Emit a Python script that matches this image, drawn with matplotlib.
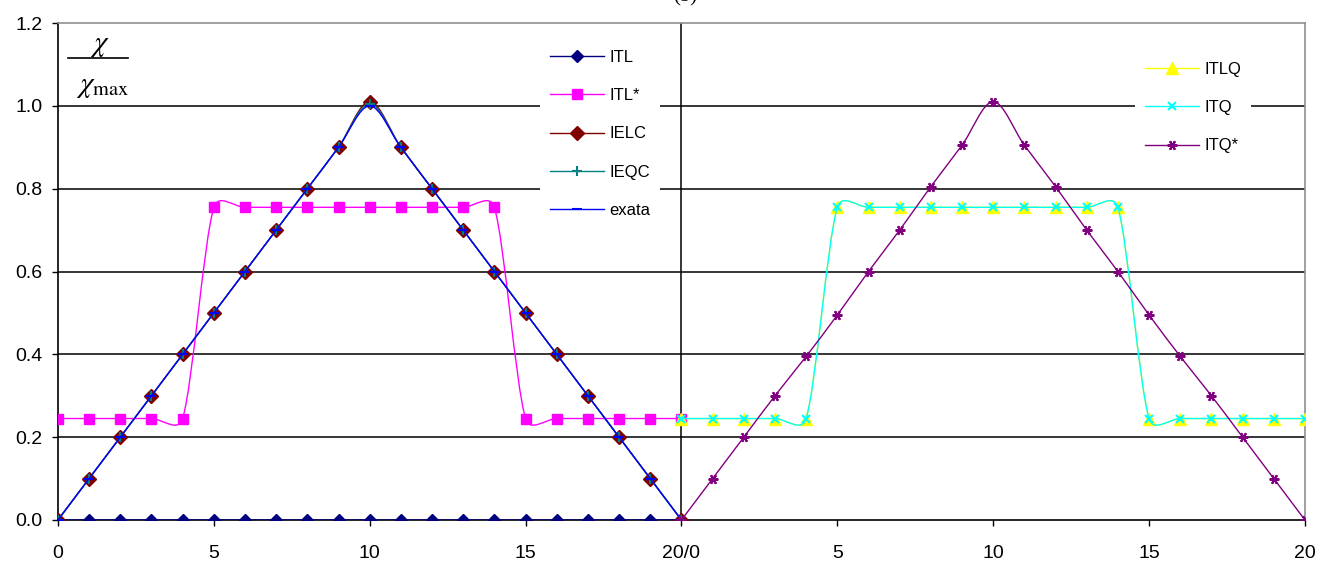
import numpy as np
import matplotlib
matplotlib.use("Agg")
import matplotlib.pyplot as plt
from matplotlib.path import Path
from matplotlib.patches import PathPatch
from matplotlib.lines import Line2D

plt.rcParams['font.family'] = ['Liberation Sans', 'DejaVu Sans']
plt.rcParams['mathtext.fontset'] = 'stix'

# --- dados ---
x_pts = [0, 1, 2, 3, 4, 5, 6, 7, 8, 9, 10, 11, 12, 13, 14, 15, 16, 17, 18, 19, 20]

# painel esquerdo
itl = [0.0] * 21
itl_star = [0.245, 0.245, 0.245, 0.245, 0.245,
            0.755, 0.755, 0.755, 0.755, 0.755, 0.755, 0.755, 0.755, 0.755, 0.755,
            0.245, 0.245, 0.245, 0.245, 0.245, 0.245]
ielc = [0.0, 0.1, 0.2, 0.3, 0.4, 0.5, 0.6, 0.7, 0.8, 0.9, 1.01,
        0.9, 0.8, 0.7, 0.6, 0.5, 0.4, 0.3, 0.2, 0.1, 0.0]
ieqc = [0.0, 0.1, 0.2, 0.3, 0.4, 0.5, 0.6, 0.7, 0.8, 0.9, 1.005,
        0.9, 0.8, 0.7, 0.6, 0.5, 0.4, 0.3, 0.2, 0.1, 0.0]
exata = [0.0, 0.1, 0.2, 0.3, 0.4, 0.5, 0.6, 0.7, 0.8, 0.9, 1.0,
         0.9, 0.8, 0.7, 0.6, 0.5, 0.4, 0.3, 0.2, 0.1, 0.0]

# painel direito
itlq = [0.245, 0.245, 0.245, 0.245, 0.245,
        0.755, 0.755, 0.755, 0.755, 0.755, 0.755, 0.755, 0.755, 0.755, 0.755,
        0.245, 0.245, 0.245, 0.245, 0.245, 0.245]
itq = [0.245, 0.245, 0.245, 0.245, 0.245,
       0.755, 0.755, 0.755, 0.755, 0.755, 0.755, 0.755, 0.755, 0.755, 0.755,
       0.245, 0.245, 0.245, 0.245, 0.245, 0.245]
itq_star = [0.0, 0.1, 0.2, 0.3, 0.395, 0.495, 0.6, 0.7, 0.805, 0.905, 1.01,
            0.905, 0.805, 0.7, 0.6, 0.495, 0.395, 0.3, 0.2, 0.1, 0.0]

x_ticks = [0, 5, 10, 15, 20, 25, 30, 35, 40]
x_ticklabels = ['0', '5', '10', '15', '20/0', '5', '10', '15', '20']
y_ticks = [0.0, 0.2, 0.4, 0.6, 0.8, 1.0, 1.2]

x_right = [20 + v for v in x_pts]  # painel direito deslocado

# escala aproximada em pixels (para suavizar como o Excel)
SX = 31.2
SY = 414.0


def linha_suave(ax, xs, ys, color, lw=1.0, zorder=2):
    p = np.column_stack([np.asarray(xs, float) * SX, np.asarray(ys, float) * SY])
    n = len(p)
    verts = [p[0]]
    codes = [Path.MOVETO]
    for i in range(n - 1):
        p0 = p[i - 1] if i > 0 else p[i]
        p1, p2 = p[i], p[i + 1]
        p3 = p[i + 2] if i + 2 < n else p[i + 1]
        d = np.hypot(*(p2 - p1))
        c1 = (p2 - p0) / 6.0
        c2 = (p3 - p1) / 6.0
        lim = 0.5 * d
        l1, l2 = np.hypot(*c1), np.hypot(*c2)
        if l1 > lim:
            c1 = c1 * lim / l1
        if l2 > lim:
            c2 = c2 * lim / l2
        verts += [p1 + c1, p2 - c2, p2]
        codes += [Path.CURVE4] * 3
    verts = np.array(verts) / [SX, SY]
    ax.add_patch(PathPatch(Path(verts, codes), fc='none', ec=color, lw=lw,
                           zorder=zorder, capstyle='round'))


fig = plt.figure(figsize=(13.32, 5.67), dpi=100)
ax = fig.add_axes([0.0435, 0.0829, 0.9362, 0.8765])

# grade
for yv in y_ticks[1:-1]:
    ax.axhline(yv, color='black', lw=1.1, zorder=1)
ax.axvline(20, color='black', lw=1.1, zorder=1)

series = [
    # x, y, cor, marcador, tamanho, label
    (x_pts, itl, '#000080', 'D', 6.0, 'ITL'),
    (x_pts, itl_star, '#FF00FF', 's', 7.5, 'ITL*'),
    (x_pts, ielc, '#800000', 'D', 7.0, 'IELC'),
    (x_pts, ieqc, '#008080', '+', 7.0, 'IEQC'),
    (x_pts, exata, '#0000FF', '_', 7.0, 'exata'),
    (x_right, itlq, '#FFFF00', '^', 8.0, 'ITLQ'),
    (x_right, itq, '#00FFFF', 'x', 6.0, 'ITQ'),
    (x_right, itq_star, '#800080', (6, 2, 90), 7.0, 'ITQ*'),
]

handles = []
for k, (xs, ys, cor, mk, ms, lab) in enumerate(series):
    z = 3 + k
    linha_suave(ax, xs, ys, cor, lw=1.0, zorder=z)
    mew = 1.5 if mk in ('+', '_', 'x', (6, 2, 90)) else 1.0
    ax.plot(xs, ys, ls='none', marker=mk, ms=ms, color=cor, mec=cor, mfc=cor,
            mew=mew, zorder=z + 0.5)
    handles.append(Line2D([], [], color=cor, lw=1.0, marker=mk, ms=ms,
                          mec=cor, mfc=cor, mew=mew, label=lab))

ax.set_xlim(0, 40)
ax.set_ylim(0, 1.2)
ax.set_xticks(x_ticks)
ax.set_xticklabels(x_ticklabels)
ax.set_yticks(y_ticks)
ax.set_yticklabels([f'{v:.1f}' for v in y_ticks])
ax.tick_params(axis='both', direction='out', length=4, width=1.0, labelsize=14,
               colors='black')
ax.tick_params(axis='x', pad=14)
ax.tick_params(axis='y', pad=7)

for s in ('left', 'bottom'):
    ax.spines[s].set_color('black')
    ax.spines[s].set_linewidth(1.2)
for s in ('top', 'right'):
    ax.spines[s].set_color('#909090')
    ax.spines[s].set_linewidth(1.2)

opts = dict(loc='upper left', frameon=True, facecolor='white', edgecolor='none',
            framealpha=1, fontsize=12, handlelength=3.25, handletextpad=0.3,
            labelspacing=1.4, borderpad=0.6, fancybox=False)
leg1 = ax.legend(handles=handles[:5], bbox_to_anchor=(0.380, 0.983), **opts)
leg1.set_zorder(20)
ax.add_artist(leg1)
leg2 = ax.legend(handles=handles[5:], bbox_to_anchor=(0.857, 0.959), **opts)
leg2.set_zorder(20)

# rótulo do eixo y (fração)
fig.text(100 / 1332, 1 - 45 / 567, r'$\chi$', ha='center', va='center', fontsize=21)
fig.add_artist(Line2D([68 / 1332, 128 / 1332], [1 - 58 / 567] * 2, color='black', lw=1.2))
fig.text(103 / 1332, 1 - 86 / 567, r'$\chi_{\mathrm{max}}$', ha='center', va='center',
         fontsize=21)

# título cortado no topo
fig.text(685 / 1332, 1.006, '(b)', ha='center', va='center', fontsize=15,
         family='Liberation Serif')

fig.savefig('out.png', dpi=100)
